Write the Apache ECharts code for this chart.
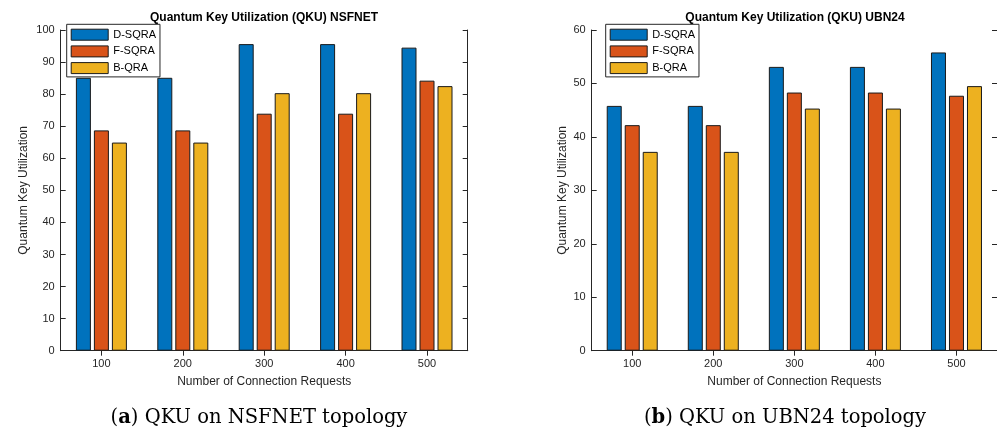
<!DOCTYPE html>
<html>
<head>
<meta charset="utf-8">
<style>
  html, body { margin: 0; padding: 0; background: #fff; }
  #chart { width: 997px; height: 432px; }
</style>
<script src="https://cdn.jsdelivr.net/npm/echarts@6/dist/echarts.min.js"></script>
</head>
<body>
<div id="chart"></div>
<script>
// Connection request counts (x categories)
const categories = ['100', '200', '300', '400', '500'];
const seriesNames = ['D-SQRA', 'F-SQRA', 'B-QRA'];

// Quantum key utilization on NSFNET
const nsfnetDSQRA = [85.1, 85.1, 95.6, 95.6, 94.5];
const nsfnetFSQRA = [68.7, 68.7, 73.9, 73.9, 84.2];
const nsfnetBQRA  = [64.9, 64.9, 80.3, 80.3, 82.5];

// Quantum key utilization on UBN24
const ubnDSQRA = [45.8, 45.8, 53.1, 53.1, 55.8];
const ubnFSQRA = [42.2, 42.2, 48.3, 48.3, 47.7];
const ubnBQRA  = [37.2, 37.2, 45.3, 45.3, 49.5];

// Axis ranges
const nsfnetMax = 100;
const ubnMax = 60;
const yStep = 10;

const titles = ['Quantum Key Utilization (QKU) NSFNET', 'Quantum Key Utilization (QKU) UBN24'];
const captionLetters = ['a', 'b'];
const captionTexts = [' QKU on NSFNET topology', ' QKU on UBN24 topology'];
const xAxisTitle = 'Number of Connection Requests';
const yAxisTitle = 'Quantum Key Utilization';

const colors = ['#0072BD', '#D95319', '#EDB120'];
const INK = '#262626';
const SANS = '"Liberation Sans", Arial, Helvetica, sans-serif';
const SERIF = '"DejaVu Serif", "Liberation Serif", serif';

const panels = [
  { left: 60.7, width: 407, yMax: nsfnetMax, nameGap: 31, data: [nsfnetDSQRA, nsfnetFSQRA, nsfnetBQRA],
    titleX: 264, captionX: 259, legendLeft: 66.7 },
  { left: 591.7, width: 406.8, yMax: ubnMax, nameGap: 23, data: [ubnDSQRA, ubnFSQRA, ubnBQRA],
    titleX: 795, captionX: 785, legendLeft: 605.7 }
];

const lineStyle = { color: INK, width: 1 };
const grids = [], xAxes = [], yAxes = [], series = [], legends = [], graphics = [];

panels.forEach((p, gi) => {
  grids.push({ left: p.left, top: 30, width: p.width, height: 320.7, containLabel: false });

  // bottom axis with labels, top axis as box edge with ticks
  xAxes.push({
    type: 'category', gridIndex: gi, data: categories, position: 'bottom',
    axisLine: { show: true, lineStyle },
    axisTick: { show: true, inside: true, alignWithLabel: true, length: 5, lineStyle },
    axisLabel: { color: INK, fontSize: 11, fontFamily: SANS, margin: 8 },
    name: xAxisTitle, nameLocation: 'middle', nameGap: 25,
    nameTextStyle: { color: INK, fontSize: 12, fontFamily: SANS }
  });
  xAxes.push({
    type: 'category', gridIndex: gi, data: categories, position: 'top',
    axisLine: { show: true, lineStyle },
    axisTick: { show: true, inside: true, alignWithLabel: true, length: 5, lineStyle },
    axisLabel: { show: false }
  });

  yAxes.push({
    type: 'value', gridIndex: gi, position: 'left', min: 0, max: p.yMax, interval: yStep,
    axisLine: { show: true, lineStyle },
    axisTick: { show: true, inside: true, length: 5, lineStyle },
    axisLabel: { color: INK, fontSize: 11, fontFamily: SANS, margin: 6 },
    splitLine: { show: false },
    name: yAxisTitle, nameLocation: 'middle', nameRotate: 90, nameGap: p.nameGap,
    nameTextStyle: { color: INK, fontSize: 12, fontFamily: SANS }
  });
  yAxes.push({
    type: 'value', gridIndex: gi, position: 'right', min: 0, max: p.yMax, interval: yStep,
    axisLine: { show: true, lineStyle },
    axisTick: { show: true, inside: true, length: 5, lineStyle },
    axisLabel: { show: false },
    splitLine: { show: false }
  });

  p.data.forEach((vals, si) => {
    series.push({
      type: 'bar', name: seriesNames[si], data: vals,
      xAxisIndex: gi * 2, yAxisIndex: gi * 2,
      barWidth: 15, barGap: '20%',
      itemStyle: { color: colors[si], borderColor: '#1a1a1a', borderWidth: 1 },
      silent: true
    });
  });

  legends.push({
    data: seriesNames.map(n => ({ name: n, icon: 'rect' })),
    orient: 'vertical', left: p.legendLeft, top: 24.3,
    itemWidth: 37, itemHeight: 11, itemGap: 4.7,
    padding: [4.4, 4, 2.8, 4],
    backgroundColor: '#fff', borderColor: INK, borderWidth: 1,
    itemStyle: { borderColor: '#1a1a1a', borderWidth: 1 },
    textStyle: { color: '#000', fontSize: 11, fontFamily: SANS, lineHeight: 11 },
    selectedMode: false
  });

  graphics.push({
    type: 'text', x: p.titleX, y: 18,
    style: { text: titles[gi], fill: '#000', font: 'bold 12px ' + SANS, align: 'center', verticalAlign: 'middle' }
  });
  graphics.push({
    type: 'text', x: p.captionX, y: 418,
    style: {
      text: '({b|' + captionLetters[gi] + '})' + captionTexts[gi],
      fill: '#000', fontSize: 19.5, fontFamily: SERIF, align: 'center', verticalAlign: 'middle',
      rich: { b: { fontWeight: 'bold', fontSize: 19.5, fontFamily: SERIF, fill: '#000' } }
    }
  });
});

const chart = echarts.init(document.getElementById('chart'), null, { renderer: 'canvas' });
chart.setOption({
  animation: false,
  backgroundColor: '#fff',
  grid: grids,
  xAxis: xAxes,
  yAxis: yAxes,
  legend: legends,
  series: series,
  graphic: graphics
});
</script>
</body>
</html>
